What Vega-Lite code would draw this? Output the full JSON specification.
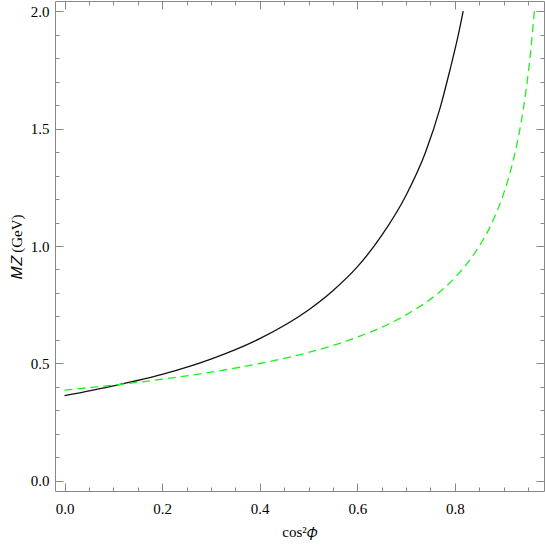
{
  "$schema": "https://vega.github.io/schema/vega-lite/v6.json",
  "width": 489,
  "height": 490,
  "autosize": {"type": "none"},
  "padding": {"left": 55, "top": 1, "right": 1, "bottom": 56},
  "background": "white",
  "config": {
    "view": {"stroke": "#888888", "strokeWidth": 1},
    "axis": {
      "domain": false,
      "grid": false,
      "tickColor": "#888888",
      "tickWidth": 1,
      "labelColor": "black",
      "titleColor": "black",
      "titleFontWeight": "normal",
      "labelFont": "Liberation Serif",
      "labelFontSize": 15,
      "titleFont": "Liberation Serif",
      "titleFontSize": 15
    }
  },
  "data": {
    "values": [
      {"s": "a", "x": 0.0, "y": 0.363},
      {"s": "a", "x": 0.1, "y": 0.405},
      {"s": "a", "x": 0.2, "y": 0.454},
      {"s": "a", "x": 0.3, "y": 0.519},
      {"s": "a", "x": 0.4, "y": 0.606},
      {"s": "a", "x": 0.5, "y": 0.728},
      {"s": "a", "x": 0.55, "y": 0.81},
      {"s": "a", "x": 0.6, "y": 0.911},
      {"s": "a", "x": 0.65, "y": 1.045},
      {"s": "a", "x": 0.7, "y": 1.216},
      {"s": "a", "x": 0.74, "y": 1.40},
      {"s": "a", "x": 0.77, "y": 1.59},
      {"s": "a", "x": 0.79, "y": 1.75},
      {"s": "a", "x": 0.805, "y": 1.88},
      {"s": "a", "x": 0.817, "y": 2.0},
      {"s": "b", "x": 0.0, "y": 0.387},
      {"s": "b", "x": 0.1, "y": 0.408},
      {"s": "b", "x": 0.2, "y": 0.433},
      {"s": "b", "x": 0.3, "y": 0.463},
      {"s": "b", "x": 0.4, "y": 0.50},
      {"s": "b", "x": 0.5, "y": 0.547},
      {"s": "b", "x": 0.6, "y": 0.612},
      {"s": "b", "x": 0.7, "y": 0.707},
      {"s": "b", "x": 0.75, "y": 0.774},
      {"s": "b", "x": 0.8, "y": 0.865},
      {"s": "b", "x": 0.84, "y": 0.968},
      {"s": "b", "x": 0.87, "y": 1.073},
      {"s": "b", "x": 0.9, "y": 1.224},
      {"s": "b", "x": 0.92, "y": 1.368},
      {"s": "b", "x": 0.935, "y": 1.518},
      {"s": "b", "x": 0.945, "y": 1.65},
      {"s": "b", "x": 0.955, "y": 1.824},
      {"s": "b", "x": 0.963, "y": 2.0}
    ]
  },
  "layer": [
    {
      "transform": [{"filter": "datum.s === 'a'"}],
      "mark": {"type": "line", "color": "#111111", "strokeWidth": 1.3, "interpolate": "monotone"},
      "encoding": {
        "x": {
          "field": "x", "type": "quantitative",
          "scale": {"domain": [-0.0195, 0.9826], "nice": false, "zero": false},
          "axis": {
            "orient": "bottom",
            "title": "cos²𝜙",
            "titlePadding": 8,
            "values": [0, 0.2, 0.4, 0.6, 0.8],
            "format": ".1f",
            "tickSize": -8,
            "labelPadding": 18
          }
        },
        "y": {
          "field": "y", "type": "quantitative",
          "scale": {"domain": [-0.0426, 2.0426], "nice": false, "zero": false},
          "axis": {
            "orient": "left",
            "title": "𝑀𝑍 (GeV)",
            "titlePadding": 6,
            "values": [0, 0.5, 1.0, 1.5, 2.0],
            "format": ".1f",
            "tickSize": -8,
            "labelPadding": 14
          }
        }
      }
    },
    {
      "transform": [{"filter": "datum.s === 'b'"}],
      "mark": {"type": "line", "color": "#1ef01e", "strokeWidth": 1.3, "strokeDash": [8, 5], "interpolate": "monotone"},
      "encoding": {
        "x": {
          "field": "x", "type": "quantitative",
          "scale": {"domain": [-0.0195, 0.9826], "nice": false, "zero": false},
          "axis": {
            "orient": "top",
            "title": null,
            "labels": false,
            "values": [0, 0.2, 0.4, 0.6, 0.8],
            "tickSize": -8
          }
        },
        "y": {
          "field": "y", "type": "quantitative",
          "scale": {"domain": [-0.0426, 2.0426], "nice": false, "zero": false},
          "axis": {
            "orient": "right",
            "title": null,
            "labels": false,
            "values": [0, 0.5, 1.0, 1.5, 2.0],
            "tickSize": -8
          }
        }
      }
    },
    {
      "mark": {"type": "point", "opacity": 0},
      "encoding": {
        "x": {
          "field": "x", "type": "quantitative",
          "scale": {"domain": [-0.0195, 0.9826], "nice": false, "zero": false},
          "axis": {
            "orient": "bottom",
            "title": null,
            "labels": false,
            "values": [0.05, 0.1, 0.15, 0.25, 0.3, 0.35, 0.45, 0.5, 0.55, 0.65, 0.7, 0.75, 0.85, 0.9, 0.95],
            "tickSize": -4
          }
        },
        "y": {
          "field": "y", "type": "quantitative",
          "scale": {"domain": [-0.0426, 2.0426], "nice": false, "zero": false},
          "axis": {
            "orient": "left",
            "title": null,
            "labels": false,
            "values": [0.1, 0.2, 0.3, 0.4, 0.6, 0.7, 0.8, 0.9, 1.1, 1.2, 1.3, 1.4, 1.6, 1.7, 1.8, 1.9],
            "tickSize": -4
          }
        }
      }
    },
    {
      "mark": {"type": "point", "opacity": 0},
      "encoding": {
        "x": {
          "field": "x", "type": "quantitative",
          "scale": {"domain": [-0.0195, 0.9826], "nice": false, "zero": false},
          "axis": {
            "orient": "top",
            "title": null,
            "labels": false,
            "values": [0.05, 0.1, 0.15, 0.25, 0.3, 0.35, 0.45, 0.5, 0.55, 0.65, 0.7, 0.75, 0.85, 0.9, 0.95],
            "tickSize": -4
          }
        },
        "y": {
          "field": "y", "type": "quantitative",
          "scale": {"domain": [-0.0426, 2.0426], "nice": false, "zero": false},
          "axis": {
            "orient": "right",
            "title": null,
            "labels": false,
            "values": [0.1, 0.2, 0.3, 0.4, 0.6, 0.7, 0.8, 0.9, 1.1, 1.2, 1.3, 1.4, 1.6, 1.7, 1.8, 1.9],
            "tickSize": -4
          }
        }
      }
    }
  ],
  "resolve": {"axis": {"x": "independent", "y": "independent"}}
}
